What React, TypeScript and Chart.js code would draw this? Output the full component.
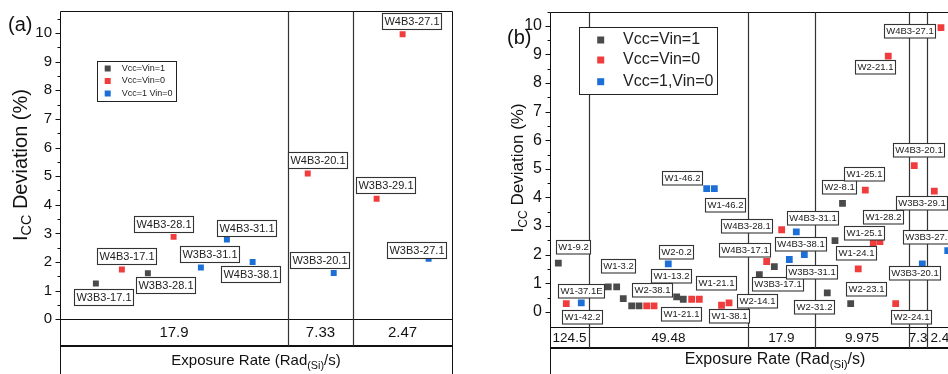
import React, { useEffect, useRef } from 'react';
import { Chart, registerables } from 'chart.js';

Chart.register(...registerables);

const FONT = '"Liberation Sans", Arial, Helvetica, sans-serif';

// ---------- shared ----------
const SERIES_LABELS_A = ['Vcc=Vin=1', 'Vcc=Vin=0', 'Vcc=1 Vin=0'];
const SERIES_LABELS_B = ['Vcc=Vin=1', 'Vcc=Vin=0', 'Vcc=1,Vin=0'];
const Y_TICKS = [0, 1, 2, 3, 4, 5, 6, 7, 8, 9, 10];
const X_TITLE = ['Exposure Rate (Rad', '(Si)', '/s)'];

// ---------- panel (a) data ----------
const A_CATEGORIES = ['17.9', '7.33', '2.47'];
const A_CATEGORY_EDGES = [0, 8.77, 11.27, 15.08];

const A_DARK_X = [1.38, 3.38];
const A_DARK_Y = [1.25, 1.61];
const A_DARK_NAMES = ['W3B3-17.1', 'W3B3-28.1'];

const A_RED_X = [2.38, 4.37, 9.53, 12.18, 13.18];
const A_RED_Y = [1.74, 2.88, 5.09, 4.21, 9.96];
const A_RED_NAMES = ['W4B3-17.1', 'W4B3-28.1', 'W4B3-20.1', 'W3B3-29.1', 'W4B3-27.1'];

const A_BLUE_X = [5.42, 6.42, 7.41, 10.53, 14.18];
const A_BLUE_Y = [1.81, 2.79, 2.0, 1.62, 2.11];
const A_BLUE_NAMES = ['W3B3-31.1', 'W4B3-31.1', 'W4B3-38.1', 'W3B3-20.1', 'W3B3-27.1'];

// ---------- panel (b) data ----------
const B_CATEGORIES = ['124.5', '49.48', '17.9', '9.975', '7.3', '2.47'];
const B_CATEGORY_EDGES = [0, 5.2, 26.4, 35.33, 47.87, 50.31, 54.67];

const B_DARK_X = [1.11, 7.77, 8.89, 9.77, 10.89, 11.87, 16.89, 17.77, 27.91, 29.91, 36.97, 38.0, 39.0, 40.09];
const B_DARK_Y = [1.70, 0.87, 0.87, 0.46, 0.21, 0.21, 0.52, 0.44, 1.30, 1.58, 0.66, 2.49, 3.79, 0.29];
const B_DARK_NAMES = ['W1-9.2', 'W1-3.2', '', '', '', '', 'W1-13.2', 'W1-21.1', 'W3B3-17.1', '', 'W2-31.2', '', 'W2-8.1', 'W2-23.1'];

const B_RED_X = [2.17, 12.89, 13.87, 18.89, 19.91, 22.87, 23.87, 28.89, 30.89, 41.1, 42.04, 43.1, 44.0, 45.1, 46.09, 48.57, 51.24, 52.13];
const B_RED_Y = [0.29, 0.21, 0.21, 0.44, 0.44, 0.23, 0.31, 1.76, 2.87, 1.50, 4.26, 2.41, 2.46, 8.94, 0.29, 5.11, 4.22, 9.94];
const B_RED_NAMES = ['W1-37.1E', 'W2-38.1', '', '', 'W1-21.1', 'W1-38.1', 'W2-14.1', 'W4B3-17.1', 'W4B3-28.1', 'W1-24.1', 'W1-25.1', 'W1-25.1', 'W1-28.2', 'W2-21.1', 'W2-24.1', 'W4B3-20.1', 'W3B3-29.1', 'W4B3-27.1'];

const B_BLUE_X = [4.17, 15.77, 20.89, 21.91, 31.91, 32.84, 33.91, 49.64, 53.03];
const B_BLUE_Y = [0.31, 1.68, 4.31, 4.31, 1.83, 2.80, 2.00, 1.68, 2.14];
const B_BLUE_NAMES = ['W1-42.2', 'W2-0.2', 'W1-46.2', 'W1-46.2', 'W3B3-31.1', 'W4B3-31.1', 'W4B3-38.1', 'W3B3-20.1', 'W3B3-27.1'];

// ---------- label placement (pixel offsets from the marker) ----------
const A_DARK_LABEL_OFFSETS = [[7.7, 13], [18, 11.3]];
const A_RED_LABEL_OFFSETS = [[4.3, -13.8], [-10, -12.5], [9.3, -13.6], [8.8, -13.3], [9.3, -13]];
const A_BLUE_LABEL_OFFSETS = [[8.7, -13.5], [19.5, -11.6], [-1.9, 11.6], [-14, -12.7], [-12, -9.2]];

const B_DARK_LABEL_OFFSETS = [[14.6, -16.7], [9.5, -20.9], [0, 0], [0, 0], [0, 0], [0, 0], [-5.9, -21.7], [-2.5, 14], [18.7, 9.5], [0, 0], [-13.5, 13.3], [0, 0], [-3.7, -16.3], [15, -14.6]];
const B_RED_LABEL_OFFSETS = [[14.2, -12.5], [4.7, -16], [0, 0], [0, 0], [16.2, -16.8], [7.5, 10.5], [28, -2.4], [-22.4, -11.3], [-35.2, -3.7], [-2.3, -16.1], [-1.6, -16.5], [-9, -10.6], [2.7, -25.2], [-13.8, 11], [14.6, 13], [4, -16.3], [-13, 11.3], [-31.8, 3.2]];
const B_BLUE_LABEL_OFFSETS = [[0, 13.6], [7.8, -12], [-24.5, -10.8], [10.4, 15.7], [22.4, 12.3], [16.7, -14.3], [-3.8, -11], [-7.3, 8.9], [-19.5, -14.2]];

// ---------- styles ----------
const COLORS = ['#4a4a4a', '#f03c3c', '#1d6fd8'];

type Part = { t: string; sub?: boolean };

function drawRich(ctx: CanvasRenderingContext2D, parts: Part[], size: number, cx: number, cy: number) {
  const subSize = size * 0.72;
  let total = 0;
  const widths = parts.map((p) => {
    ctx.font = `${p.sub ? subSize : size}px ${FONT}`;
    const w = ctx.measureText(p.t).width;
    total += w;
    return w;
  });
  let x = cx - total / 2;
  ctx.textAlign = 'left';
  ctx.textBaseline = 'middle';
  parts.forEach((p, i) => {
    ctx.font = `${p.sub ? subSize : size}px ${FONT}`;
    ctx.fillText(p.t, x, cy + (p.sub ? size * 0.32 : 0));
    x += widths[i];
  });
}

function makeDecor(cfg: any) {
  return {
    id: 'decor',
    beforeDatasetsDraw(chart: any) {
      const { ctx, chartArea: ca, scales } = chart;
      const xs = scales.x;
      const ys = scales.y;
      const H = chart.height;
      const rowB = ca.bottom + cfg.row1H;
      const L = Math.round(ca.left) + 0.5;
      const R = Math.round(ca.right) + 0.5;
      const T = Math.round(ca.top) + 0.5;
      const B = Math.round(ca.bottom) + 0.5;
      ctx.save();
      ctx.strokeStyle = '#111';
      ctx.lineWidth = 1;
      const ln = (x1: number, y1: number, x2: number, y2: number) => {
        ctx.beginPath();
        ctx.moveTo(x1, y1);
        ctx.lineTo(x2, y2);
        ctx.stroke();
      };
      ln(L, T, R, T);
      ln(L, T, L, H);
      ln(R, T, R, H);
      ln(L, B, R, B);
      ctx.lineWidth = 2;
      ln(L, Math.round(rowB), R, Math.round(rowB));
      ctx.lineWidth = 1.2;
      ctx.strokeStyle = '#333';
      cfg.edges.slice(1, -1).forEach((e: number) => {
        const px = Math.round(xs.getPixelForValue(e)) + 0.5;
        ln(px, T, px, rowB);
      });
      if (cfg.edges[cfg.edges.length - 1] < cfg.xMax) {
        const px = Math.round(xs.getPixelForValue(cfg.edges[cfg.edges.length - 1])) + 0.5;
        ln(px, T, px, rowB);
      }
      // y tick marks (major + minor)
      ctx.strokeStyle = '#111';
      ctx.lineWidth = 1;
      for (let v = 0; v <= cfg.yMax + 1e-6; v += 0.5) {
        const py = Math.round(ys.getPixelForValue(v)) + 0.5;
        const major = Math.abs(v - Math.round(v)) < 1e-6;
        ln(L - (major ? 5 : 3), py, L, py);
      }
      ctx.restore();
    },
    afterDatasetsDraw(chart: any) {
      const { ctx, chartArea: ca, scales } = chart;
      const xs = scales.x;
      const ys = scales.y;
      ctx.save();
      // point labels
      ctx.font = `${cfg.labelFont}px ${FONT}`;
      cfg.series.forEach((s: any) => {
        s.names.forEach((name: string, i: number) => {
          if (!name) return;
          const off = s.offsets[i];
          const cx = xs.getPixelForValue(s.x[i]) + off[0];
          const cy = ys.getPixelForValue(s.y[i]) + off[1];
          ctx.font = `${cfg.labelFont}px ${FONT}`;
          const w = ctx.measureText(name).width + cfg.labelPadX * 2;
          const h = cfg.labelH;
          const bx = Math.round(cx - w / 2) + 0.5;
          const by = Math.round(cy - h / 2) + 0.5;
          ctx.fillStyle = '#fff';
          ctx.fillRect(bx, by, Math.round(w), h);
          ctx.strokeStyle = '#333';
          ctx.lineWidth = 1.1;
          ctx.strokeRect(bx, by, Math.round(w), h);
          ctx.fillStyle = '#222';
          ctx.textAlign = 'center';
          ctx.textBaseline = 'middle';
          ctx.fillText(name, bx + Math.round(w) / 2, by + h / 2 + 0.5);
        });
      });
      // legend
      const lg = cfg.legend;
      ctx.fillStyle = '#fff';
      ctx.fillRect(lg.x + 0.5, lg.y + 0.5, lg.w, lg.h);
      ctx.strokeStyle = '#222';
      ctx.lineWidth = 1;
      ctx.strokeRect(lg.x + 0.5, lg.y + 0.5, lg.w, lg.h);
      cfg.series.forEach((s: any, i: number) => {
        const ry = lg.rows[i];
        ctx.fillStyle = s.color;
        ctx.fillRect(lg.markerX - lg.marker / 2, ry - lg.marker / 2, lg.marker, lg.marker);
        ctx.fillStyle = '#222';
        ctx.font = `${lg.font}px ${FONT}`;
        ctx.textAlign = 'left';
        ctx.textBaseline = 'middle';
        ctx.fillText(s.label, lg.textX, ry);
      });
      // category row
      ctx.fillStyle = '#111';
      const rowMid = ca.bottom + cfg.row1H / 2;
      cfg.cats.forEach((c: string, i: number) => {
        const x1 = xs.getPixelForValue(cfg.edges[i]);
        const x2 = xs.getPixelForValue(cfg.edges[i + 1]);
        ctx.font = `${cfg.catFont}px ${FONT}`;
        ctx.textAlign = 'center';
        ctx.textBaseline = 'middle';
        ctx.fillText(c, (x1 + x2) / 2, rowMid + 0.5);
      });
      // x title
      drawRich(ctx, [{ t: X_TITLE[0] }, { t: X_TITLE[1], sub: true }, { t: X_TITLE[2] }], cfg.xTitleFont, (ca.left + ca.right) / 2, cfg.xTitleY);
      // y title (rotated)
      ctx.save();
      ctx.translate(cfg.yTitleX, cfg.yTitleY);
      ctx.rotate(-Math.PI / 2);
      drawRich(ctx, [{ t: 'I' }, { t: 'CC', sub: true }, { t: ' Deviation (%)' }], cfg.yTitleFont, 0, 0);
      ctx.restore();
      // panel tag
      ctx.font = `${cfg.tagFont}px ${FONT}`;
      ctx.textAlign = 'left';
      ctx.textBaseline = 'alphabetic';
      ctx.fillStyle = '#111';
      ctx.fillText(cfg.tag, cfg.tagX, cfg.tagY);
      ctx.restore();
    },
  };
}

function buildChart(canvas: HTMLCanvasElement, cfg: any) {
  return new Chart(canvas, {
    type: 'scatter',
    data: {
      datasets: cfg.series.map((s: any) => ({
        label: s.label,
        data: s.x.map((x: number, i: number) => ({ x, y: s.y[i] })),
        backgroundColor: s.color,
        borderColor: s.color,
        borderWidth: 0,
        pointStyle: 'rect',
        pointRadius: cfg.pointRadius,
        pointHoverRadius: cfg.pointRadius,
      })),
    },
    options: {
      responsive: false,
      animation: false,
      devicePixelRatio: 1,
      events: [],
      layout: { padding: { left: 0, top: cfg.padTop, right: cfg.padRight, bottom: cfg.padBottom } },
      plugins: { legend: { display: false }, tooltip: { enabled: false }, title: { display: false } },
      scales: {
        x: { type: 'linear', display: false, min: 0, max: cfg.xMax },
        y: {
          type: 'linear',
          min: cfg.yMin,
          max: cfg.yMax,
          afterFit: (s: any) => {
            s.width = cfg.yAxisW;
          },
          afterBuildTicks: (s: any) => {
            s.ticks = Y_TICKS.map((v) => ({ value: v }));
          },
          ticks: {
            padding: 2,
            color: '#111',
            font: { size: cfg.tickFont, family: FONT },
            callback: (v: any) => String(v),
          },
          grid: { drawOnChartArea: false, color: 'rgba(0,0,0,0)', tickLength: 6 },
          border: { display: false },
        },
      },
    } as any,
    plugins: [makeDecor(cfg)],
  });
}

const CFG_A = {
  tag: '(a)',
  series: [
    { label: SERIES_LABELS_A[0], color: COLORS[0], x: A_DARK_X, y: A_DARK_Y, names: A_DARK_NAMES, offsets: A_DARK_LABEL_OFFSETS },
    { label: SERIES_LABELS_A[1], color: COLORS[1], x: A_RED_X, y: A_RED_Y, names: A_RED_NAMES, offsets: A_RED_LABEL_OFFSETS },
    { label: SERIES_LABELS_A[2], color: COLORS[2], x: A_BLUE_X, y: A_BLUE_Y, names: A_BLUE_NAMES, offsets: A_BLUE_LABEL_OFFSETS },
  ],
  cats: A_CATEGORIES,
  edges: A_CATEGORY_EDGES,
  xMax: 15.08,
  yMin: 0,
  yMax: 10.77,
  padTop: 10,
  padRight: 22,
  padBottom: 54.7,
  yAxisW: 60,
  pointRadius: 4.2,
  tickFont: 15,
  catFont: 15,
  xTitleFont: 15,
  xTitleY: 361,
  yTitleFont: 20,
  yTitleX: 21,
  yTitleY: 165,
  labelFont: 11,
  labelPadX: 2,
  labelH: 16,
  row1H: 26.7,
  tagX: 8,
  tagY: 31,
  tagFont: 20,
  legend: { x: 97, y: 61, w: 79, h: 40, rows: [68.5, 81, 93.5], markerX: 107.7, textX: 121.7, font: 9, marker: 6 },
};

const CFG_B = {
  tag: '(b)',
  series: [
    { label: SERIES_LABELS_B[0], color: COLORS[0], x: B_DARK_X, y: B_DARK_Y, names: B_DARK_NAMES, offsets: B_DARK_LABEL_OFFSETS },
    { label: SERIES_LABELS_B[1], color: COLORS[1], x: B_RED_X, y: B_RED_Y, names: B_RED_NAMES, offsets: B_RED_LABEL_OFFSETS },
    { label: SERIES_LABELS_B[2], color: COLORS[2], x: B_BLUE_X, y: B_BLUE_Y, names: B_BLUE_NAMES, offsets: B_BLUE_LABEL_OFFSETS },
  ],
  cats: B_CATEGORIES,
  edges: B_CATEGORY_EDGES,
  xMax: 60,
  yMin: -0.52,
  yMax: 10.5,
  padTop: 9,
  padRight: 14,
  padBottom: 47.3,
  yAxisW: 76,
  pointRadius: 4.8,
  tickFont: 16,
  catFont: 13.5,
  xTitleFont: 16,
  xTitleY: 360,
  yTitleFont: 17,
  yTitleX: 44,
  yTitleY: 168,
  labelFont: 9.5,
  labelPadX: 1.8,
  labelH: 13.5,
  row1H: 21.6,
  tagX: 33,
  tagY: 44,
  tagFont: 20,
  legend: { x: 105, y: 27, w: 138, h: 67, rows: [40, 60, 81.7], markerX: 126.7, textX: 149, font: 16, marker: 7 },
};

export default function App() {
  const refA = useRef<HTMLCanvasElement | null>(null);
  const refB = useRef<HTMLCanvasElement | null>(null);
  useEffect(() => {
    const a = buildChart(refA.current!, CFG_A);
    const b = buildChart(refB.current!, CFG_B);
    return () => {
      a.destroy();
      b.destroy();
    };
  }, []);
  return (
    <div style={{ position: 'fixed', left: 0, top: 0, width: 948, height: 374, overflow: 'hidden', background: '#fff' }}>
      <canvas ref={refA} width={474} height={374} style={{ position: 'absolute', left: 0, top: 0, width: 474, height: 374 }} />
      <canvas ref={refB} width={540} height={374} style={{ position: 'absolute', left: 474, top: 0, width: 540, height: 374 }} />
    </div>
  );
}
